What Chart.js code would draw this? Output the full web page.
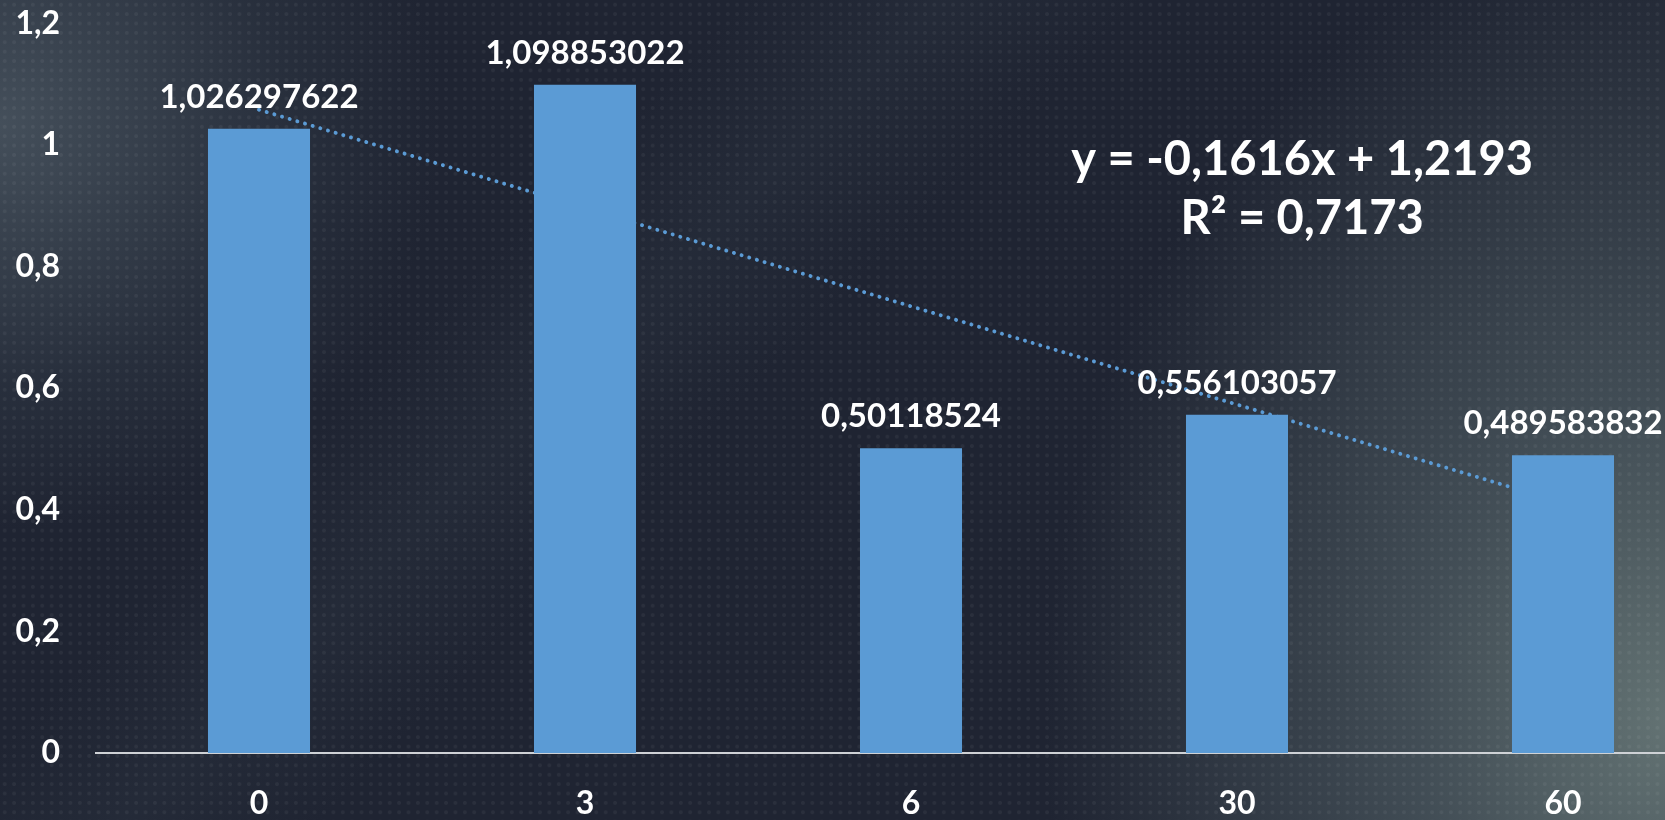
<!DOCTYPE html>
<html>
<head>
<meta charset="utf-8">
<script src="https://cdn.jsdelivr.net/npm/chart.js@4"></script>
<style>
html,body{margin:0;padding:0;width:1665px;height:820px;overflow:hidden;}
body{
  position:relative;
  background:
    radial-gradient(circle at 50% 50%, rgba(255,255,255,0.05) 0 1.5px, rgba(255,255,255,0) 2.3px) 0 0/9.4px 9.4px,
    radial-gradient(ellipse 620px 800px at 100% 88%, rgba(102,118,118,0.95) 0%, rgba(80,94,100,0.7) 40%, rgba(0,0,0,0) 100%),
    radial-gradient(ellipse 520px 480px at 0% 15%, rgba(88,102,112,0.65) 0%, rgba(60,72,84,0.3) 55%, rgba(0,0,0,0) 85%),
    linear-gradient(135deg, rgba(0,0,0,0) 30%, rgba(60,72,84,0.18) 38%, rgba(0,0,0,0) 46%),
    #1f2432;
}
#wrap{position:absolute;left:0;top:-32px;width:1740px;height:852px;}
</style>
</head>
<body>
<div id="wrap"><canvas id="c" width="1740" height="852"></canvas></div>
<script>
const categories = ['0', '3', '6', '30', '60'];
const values = [1.026297622, 1.098853022, 0.50118524, 0.556103057, 0.489583832];
const valueLabels = ['1,026297622', '1,098853022', '0,50118524', '0,556103057', '0,489583832'];
const trendValues = [1.0577, 0.8961, 0.7345, 0.5729, 0.4113];
const yTickLabels = ['0', '0,2', '0,4', '0,6', '0,8', '1', '1,2'];
const equationLines = ['y = -0,1616x + 1,2193', 'R\u00B2 = 0,7173'];

const FONT = 'Lato, "Open Sans", sans-serif';
const BLUE = '#5B9BD5';

const labelPlugin = {
  id: 'valueLabels',
  afterDatasetsDraw(chart) {
    const ctx = chart.ctx;
    const meta = chart.getDatasetMeta(0);
    ctx.save();
    ctx.font = 'bold 33px ' + FONT;
    ctx.fillStyle = '#ffffff';
    ctx.textAlign = 'center';
    ctx.textBaseline = 'alphabetic';
    meta.data.forEach((bar, i) => {
      ctx.fillText(valueLabels[i], bar.x, bar.y - 21);
    });
    ctx.restore();
  },
  afterDraw(chart) {
    const ctx = chart.ctx;
    const xs = chart.scales.x, ys = chart.scales.y;
    const cx = xs.getPixelForValue(3.2);
    ctx.save();
    ctx.font = 'bold 47px ' + FONT;
    ctx.fillStyle = '#ffffff';
    ctx.textAlign = 'center';
    ctx.textBaseline = 'alphabetic';
    ctx.fillText(equationLines[0], cx, ys.getPixelForValue(0.951));
    ctx.fillText(equationLines[1], cx, ys.getPixelForValue(0.853));
    ctx.restore();
  }
};

new Chart(document.getElementById('c'), {
  type: 'bar',
  data: {
    labels: categories,
    datasets: [
      {
        type: 'bar',
        data: values,
        backgroundColor: BLUE,
        borderWidth: 0,
        categoryPercentage: 1,
        barPercentage: 0.313,
        order: 1
      },
      {
        type: 'line',
        data: trendValues,
        borderColor: BLUE,
        borderWidth: 3.9,
        borderDash: [0.1, 7.9],
        borderCapStyle: 'round',
        pointRadius: 0,
        fill: false,
        tension: 0,
        order: 2
      }
    ]
  },
  options: {
    responsive: false,
    animation: false,
    layout: { padding: { top: 21, right: 14, left: 0, bottom: 0 } },
    plugins: { legend: { display: false }, tooltip: { enabled: false } },
    scales: {
      y: {
        min: 0, max: 1.2,
        ticks: {
          stepSize: 0.2,
          color: '#ffffff',
          font: { family: FONT, size: 32, weight: 'bold' },
          padding: 36,
          callback: (v, i) => yTickLabels[i]
        },
        grid: { display: false, drawTicks: false },
        border: { display: false },
        afterFit: (s) => { s.width = 96; }
      },
      x: {
        ticks: {
          color: '#ffffff',
          font: { family: FONT, size: 32, weight: 'bold' },
          padding: 31
        },
        grid: { display: false, drawTicks: false },
        border: { display: true, color: '#cfd2d6', width: 2 },
        afterFit: (s) => { s.height = 67; }
      }
    }
  },
  plugins: [labelPlugin]
});
</script>
</body>
</html>
